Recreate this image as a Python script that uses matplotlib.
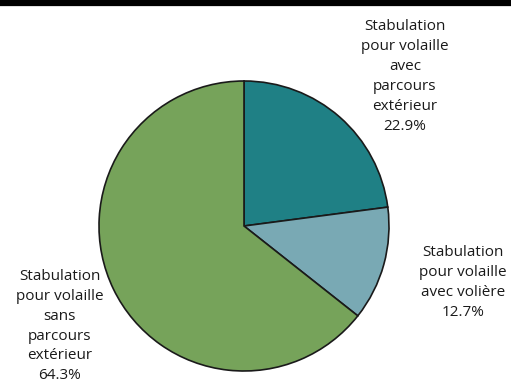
import matplotlib.pyplot as plt
from matplotlib.lines import Line2D

plt.rcParams['font.family'] = ['Open Sans', 'DejaVu Sans']

# parts des types de stabulation (%)
categories = ["Stabulation\npour volaille\navec\nparcours\nextérieur",
              "Stabulation\npour volaille\navec volière",
              "Stabulation\npour volaille\nsans\nparcours\nextérieur"]
shares = [22.9, 12.7, 64.3]
colors = ['#1f8085', '#79a9b4', '#76a35a']

# position des étiquettes (coordonnées du camembert, rayon = 1)
label_pos = [(1.11, 1.03), (1.51, -0.39), (-1.27, -0.69)]

fig = plt.figure(figsize=(5.11, 3.88), dpi=100)
fig.add_artist(Line2D([0, 1], [0.9935, 0.9935], color='black', lw=4.5,
                      transform=fig.transFigure))

W, H = 511, 388
cx, cy, r = 244, 226, 145
ax = fig.add_axes([(cx - r) / W, (H - cy - r) / H, 2 * r / W, 2 * r / H])
ax.pie(shares, colors=colors, startangle=90, counterclock=False,
       wedgeprops=dict(edgecolor='#1a1a1a', linewidth=1.2))
ax.set_xlim(-1, 1)
ax.set_ylim(-1, 1)
ax.set_aspect('equal')
ax.axis('off')

for cat, val, (x, y) in zip(categories, shares, label_pos):
    ax.text(x, y, f"{cat}\n{val:.1f}%", ha='center', va='center',
            fontsize=11, linespacing=1.45, color='#1a1a1a', clip_on=False)

fig.savefig('out.png', dpi=100)
